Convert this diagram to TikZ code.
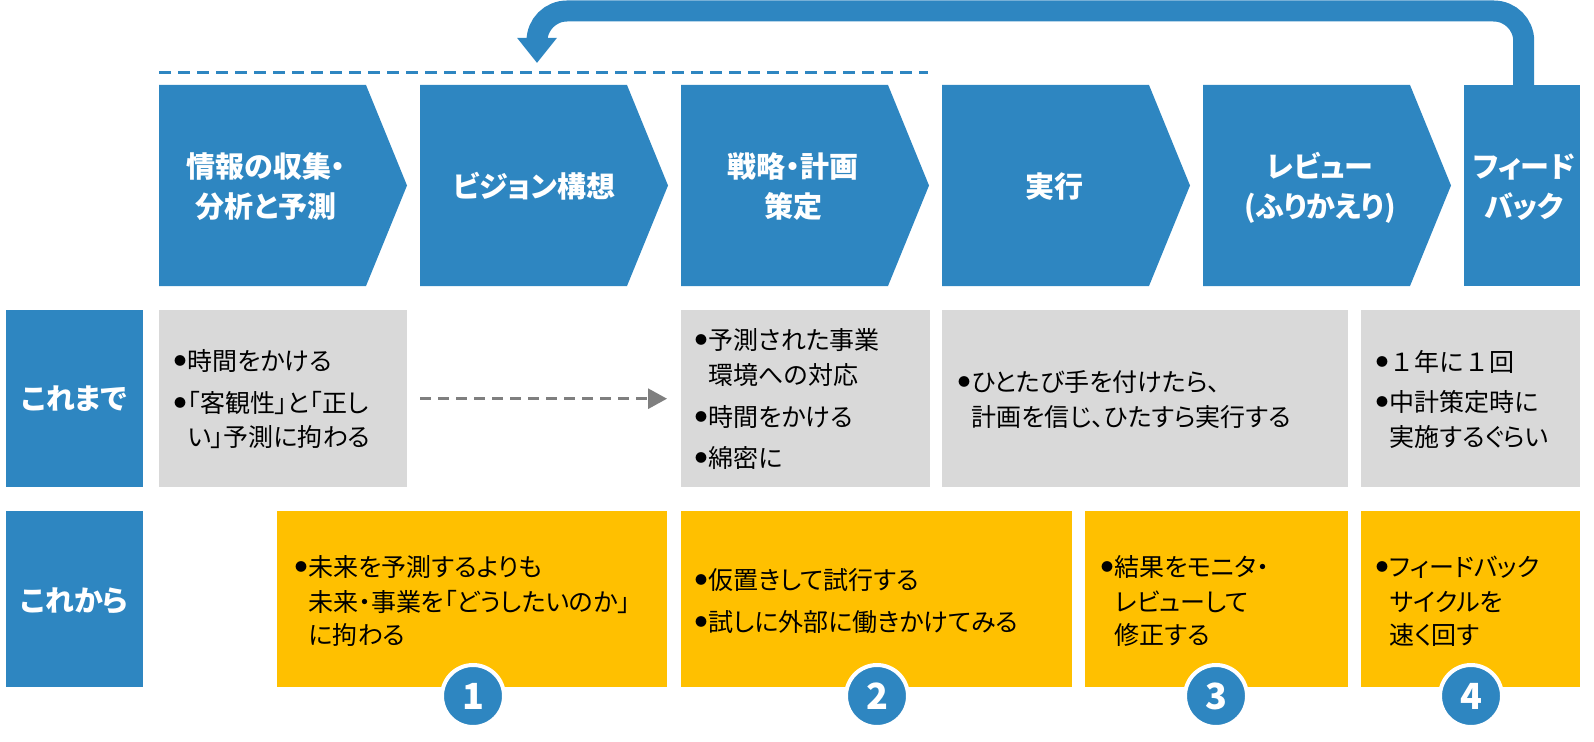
\documentclass[tikz,border=0pt]{standalone}
\usepackage{fontspec}
\setmainfont{Noto Sans CJK JP}[RawFeature=+palt]
\usetikzlibrary{arrows.meta}
\definecolor{mblue}{RGB}{46,134,193}
\definecolor{mgray}{RGB}{217,217,217}
\definecolor{myel}{RGB}{255,192,0}
\definecolor{dgray}{RGB}{127,127,127}
\newcommand{\bul}{\raisebox{5pt}{\fontsize{12}{12}\selectfont ●}\hspace{1.5pt}}
\newcommand{\bl}{\phantom{\bul}}
\begin{document}
\begin{tikzpicture}[x=1pt,y=-1pt,
  hdr/.style={text=white,font=\fontsize{29}{34}\selectfont\bfseries,anchor=base,inner sep=0},
  body/.style={text=black,font=\fontsize{25}{30}\selectfont,anchor=base west,inner sep=0},
  boxbase/.style={rectangle,draw=none,inner sep=0,anchor=north west},
  gbox/.style={boxbase,fill=mgray},
  ybox/.style={boxbase,fill=myel},
  lbox/.style={boxbase,fill=mblue},
  numc/.style={circle,fill=mblue,draw=white,line width=4pt,minimum size=62pt,inner sep=0,text=white,font=\fontsize{36}{40}\selectfont\bfseries},
  chevfill/.style={fill=mblue}
]
\useasboundingbox (0,0) rectangle (1594,741);

% chevrons
\foreach \x in {159,420,681,942,1203}{
  \fill[chevfill] (\x,85) -- ++(207,0) -- ++(41,100.5) -- ++(-41,100.5) -- ++(-207,0) -- cycle;
}
\node[lbox,minimum width=116pt,minimum height=201pt] (fb) at (1464,85) {};

% header texts
\node[hdr] (h1a) at (266,177) {情報の収集・};
\node[hdr] (h1b) at (266,217) {分析と予測};
\node[hdr] (h2) at (534,197) {ビジョン構想};
\node[hdr] (h3a) at (793,177) {戦略・計画};
\node[hdr] (h3b) at (793,217) {策定};
\node[hdr] (h4) at (1054,197) {実行};
\node[hdr] (h5a) at (1320,177) {レビュー};
\node[hdr] (h5b) at (1320,217) {(ふりかえり)};
\node[hdr] (h6a) at (1524,177) {フィード};
\node[hdr] (h6b) at (1524,217) {バック};

% dashed blue line
\coordinate (dl) at (159,73);
\coordinate (dr) at (928,73);
\draw[mblue,line width=3pt,dash pattern=on 12pt off 7pt] (dl) -- (dr);

% feedback arrow
\coordinate (fbend) at (537,63);
\draw[mblue,line width=21pt,rounded corners=30pt,-{Triangle[length=25pt,width=38pt]}]
  ([xshift=1.5pt]fb.north) -- ++(0,-74) -| (fbend);

% row labels
\node[lbox,minimum width=137pt,minimum height=177pt] (lab1) at (6,310) {};
\node[lbox,minimum width=137pt,minimum height=176pt] (lab2) at (6,511) {};
\node[hdr] (lab1t) at (74.5,409) {これまで};
\node[hdr] (lab2t) at (74.5,611) {これから};

% gray boxes
\node[gbox,minimum width=248pt,minimum height=177pt] (g1) at (159,310) {};
\node[gbox,minimum width=249pt,minimum height=177pt] (g2) at (681,310) {};
\node[gbox,minimum width=406pt,minimum height=177pt] (g3) at (942,310) {};
\node[gbox,minimum width=219pt,minimum height=177pt] (g4) at (1361,310) {};

\draw[dgray,line width=3pt,dash pattern=on 11pt off 7pt,-{Triangle[length=19pt,width=20pt]}]
  ([xshift=13pt]g1.east) -- ([xshift=-14pt]g2.west);

% yellow boxes
\node[ybox,minimum width=390pt,minimum height=176pt] (y1) at (277,511) {};
\node[ybox,minimum width=391pt,minimum height=176pt] (y2) at (681,511) {};
\node[ybox,minimum width=263pt,minimum height=176pt] (y3) at (1085,511) {};
\node[ybox,minimum width=219pt,minimum height=176pt] (y4) at (1361,511) {};

% gray texts
\node[body] (g1a) at (174,370.8) {\bul 時間をかける};
\node[body] (g1b) at (174,412.8) {\bul「客観性」と「正し};
\node[body] (g1c) at (174,446.3) {\bl い」予測に拘わる};

\node[body] (g2a) at (695,349.3) {\bul 予測された事業};
\node[body] (g2b) at (695,384.3) {\bl 環境への対応};
\node[body] (g2c) at (695,426.3) {\bul 時間をかける};
\node[body] (g2d) at (695,467.3) {\bul 綿密に};

\node[body] (g3a) at (958,391.3) {\bul ひとたび手を付けたら、};
\node[body] (g3b) at (958,426.3) {\bl 計画を信じ、ひたすら実行する};

\node[body] (g4a) at (1376,371.3) {\bul\addfontfeature{RawFeature=-palt}１年に１回};
\node[body] (g4b) at (1376,411.3) {\bul 中計策定時に};
\node[body] (g4c) at (1376,446.3) {\bl 実施するぐらい};

% yellow texts
\node[body] (y1a) at (295,576.3) {\bul 未来を予測するよりも};
\node[body] (y1b) at (295,611.3) {\bl 未来・事業を「どうしたいのか」};
\node[body] (y1c) at (295,644.3) {\bl に拘わる};

\node[body] (y2a) at (695,589.3) {\bul 仮置きして試行する};
\node[body] (y2b) at (695,631.3) {\bul 試しに外部に働きかけてみる};

\node[body] (y3a) at (1101,576.3) {\bul 結果をモニタ・};
\node[body] (y3b) at (1101,611.3) {\bl レビューして};
\node[body] (y3c) at (1101,644.3) {\bl 修正する};

\node[body] (y4a) at (1376,576.3) {\bul フィードバック};
\node[body] (y4b) at (1376,611.3) {\bl サイクルを};
\node[body] (y4c) at (1376,644.3) {\bl 速く回す};

% number circles
\node[numc] (n1) at (473,696) {1};
\node[numc] (n2) at (877,696) {2};
\node[numc] (n3) at (1216,696) {3};
\node[numc] (n4) at (1471,696) {4};
\end{tikzpicture}
\end{document}
